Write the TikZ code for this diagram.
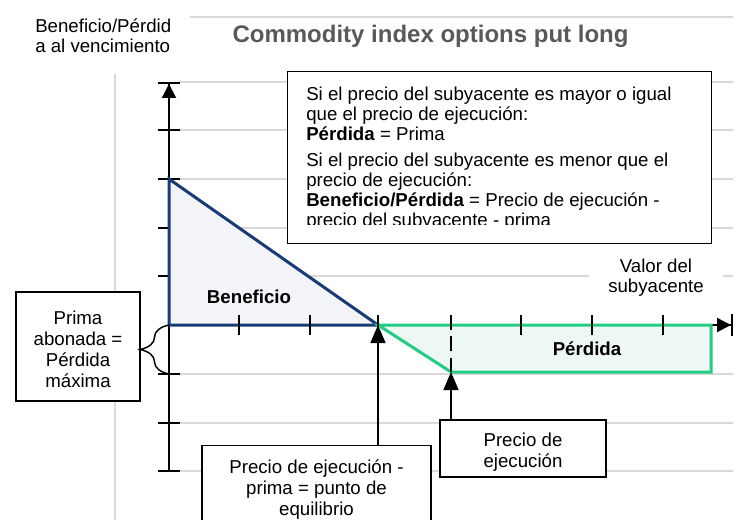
\documentclass[tikz,border=0pt]{standalone}
\usepackage{fontspec}
\setmainfont{Liberation Sans}
\usetikzlibrary{arrows.meta,decorations.pathreplacing}
\definecolor{gridgray}{RGB}{217,217,217}
\definecolor{titlegray}{RGB}{89,89,89}
\definecolor{gainblue}{RGB}{24,60,118}
\definecolor{gainfill}{RGB}{242,244,248}
\definecolor{lossgreen}{RGB}{34,204,130}
\definecolor{lossfill}{RGB}{237,247,243}
\tikzset{
  gridline/.style={gridgray,line width=1.1pt},
  axisline/.style={line width=1.5pt,-{Triangle[length=10.5pt,width=10.5pt]Bar[width=16.5pt]}},
  tickmark/.style={line width=1.5pt},
  pointer/.style={line width=1.1pt,-{Triangle[length=13.5pt,width=11.25pt]}},
  txt/.style={font=\fontsize{14}{15}\selectfont,inner sep=0pt},
  boldtxt/.style={font=\fontsize{14}{15}\selectfont\bfseries,inner sep=0pt},
  callout/.style={txt,draw,fill=white,line width=1.1pt,align=center,font=\fontsize{14}{15.75}\selectfont}
}
\begin{document}
\begin{tikzpicture}[x=0.75pt,y=-0.75pt]
  \useasboundingbox (0,0) rectangle (742,520);
  \clip (0,0) rectangle (742,520);
  \draw[gridline] (190,17) -- (733,17);
  \draw[gridline] (115,74) -- (115,520);
  \draw[gridline] (178,82) -- (733,82);
  \draw[gridline] (178,130) -- (733,130);
  \draw[gridline] (178,179) -- (733,179);
  \draw[gridline] (178,228) -- (733,228);
  \draw[gridline] (178,276) -- (733,276);
  \draw[gridline] (178,374) -- (733,374);
  \draw[gridline] (178,423) -- (733,423);
  \draw[gridline] (178,471) -- (733,471);

  \coordinate (O) at (169,325);
  \coordinate (peak) at (169,179);
  \coordinate (be) at (378,325);
  \coordinate (K) at (451,372);
  \coordinate (cap) at (711,372);
  \coordinate (capx) at (711,325);
  \coordinate (floor) at (169,374);

  \begin{scope}[tickmark]
    \draw (158,130) -- (180,130);
    \draw (158,179) -- (180,179);
    \draw (158,228) -- (180,228);
    \draw (158,276) -- (180,276);
    \draw (158,374) -- (180,374);
    \draw (158,423) -- (180,423);
    \draw (158,471) -- (180,471);
  \end{scope}
  \draw[axisline] (169,471) -- (169,82);
  \draw[axisline] (O) -- (733,325);

  \filldraw[gainblue,fill=gainfill,line width=2.25pt] (peak) -- (O) -- (be) -- cycle;
  \filldraw[lossgreen,fill=lossfill,line width=2.25pt] (be) -- (K) -- (cap) -- (capx) -- cycle;

  \begin{scope}[tickmark]
    \draw (239,315) -- (239,335);
    \draw (310,315) -- (310,335);
    \draw (378,315) -- (378,335);
    \draw (521,315) -- (521,335);
    \draw (592,315) -- (592,335);
    \draw (663,315) -- (663,335);
    \draw[dash pattern=on 11pt off 5pt] (451,315) -- (K);
  \end{scope}

  \node[font=\fontsize{18}{20}\selectfont\bfseries,text=titlegray,anchor=base,inner sep=0pt] (title) at (430.5,43) {Commodity index options put long};
  \node[txt,anchor=north west,align=left] (ylab) at (35,18.4) {Beneficio/Pérdid\\a al vencimiento};
  \node[txt,fill=white,align=center,anchor=north,minimum width=100.5pt] (xlab) at (656,258.4) {Valor del\\subyacente};
  \node[boldtxt,anchor=base] (gain) at (249,303) {Beneficio};
  \node[boldtxt,anchor=base] (loss) at (587,355) {Pérdida};

  \node[draw,fill=white,line width=1.1pt,minimum width=318pt,minimum height=129pt,anchor=north west,inner sep=0pt] (info) at (287,71) {};
  \begin{scope}
    \clip (288,72) rectangle (710,224.5);
    \node[txt,anchor=north west,align=left] (infotext) at (306,86.4) {Si el precio del subyacente es mayor o igual\\
      que el precio de ejecución:\\
      \textbf{Pérdida} = Prima\\[4.5pt]
      Si el precio del subyacente es menor que el\\
      precio de ejecución:\\
      \textbf{Beneficio/Pérdida} = Precio de ejecución -\\
      precio del subyacente - prima};
  \end{scope}

  \node[callout,minimum width=93pt,minimum height=81.75pt] (prima) at (78,346.5) {\rule{0pt}{14.55pt}Prima\\abonada =\\Pérdida\\máxima};
  \node[callout,minimum width=124.5pt,minimum height=42.75pt] (strike) at (523,448.5) {\rule{0pt}{15pt}Precio de\\ejecución};
  \node[callout,anchor=north,minimum width=171.75pt,inner ysep=10.3pt] (equil) at (316.5,445) {Precio de ejecución -\\prima = punto de\\equilibrio};

  \draw[line width=1.1pt,decorate,decoration={brace,amplitude=21.75pt}] (floor) -- (O);
  \draw[pointer] (equil.north -| be) -- (be);
  \draw[pointer] (strike.north -| K) -- (K);
\end{tikzpicture}
\end{document}
